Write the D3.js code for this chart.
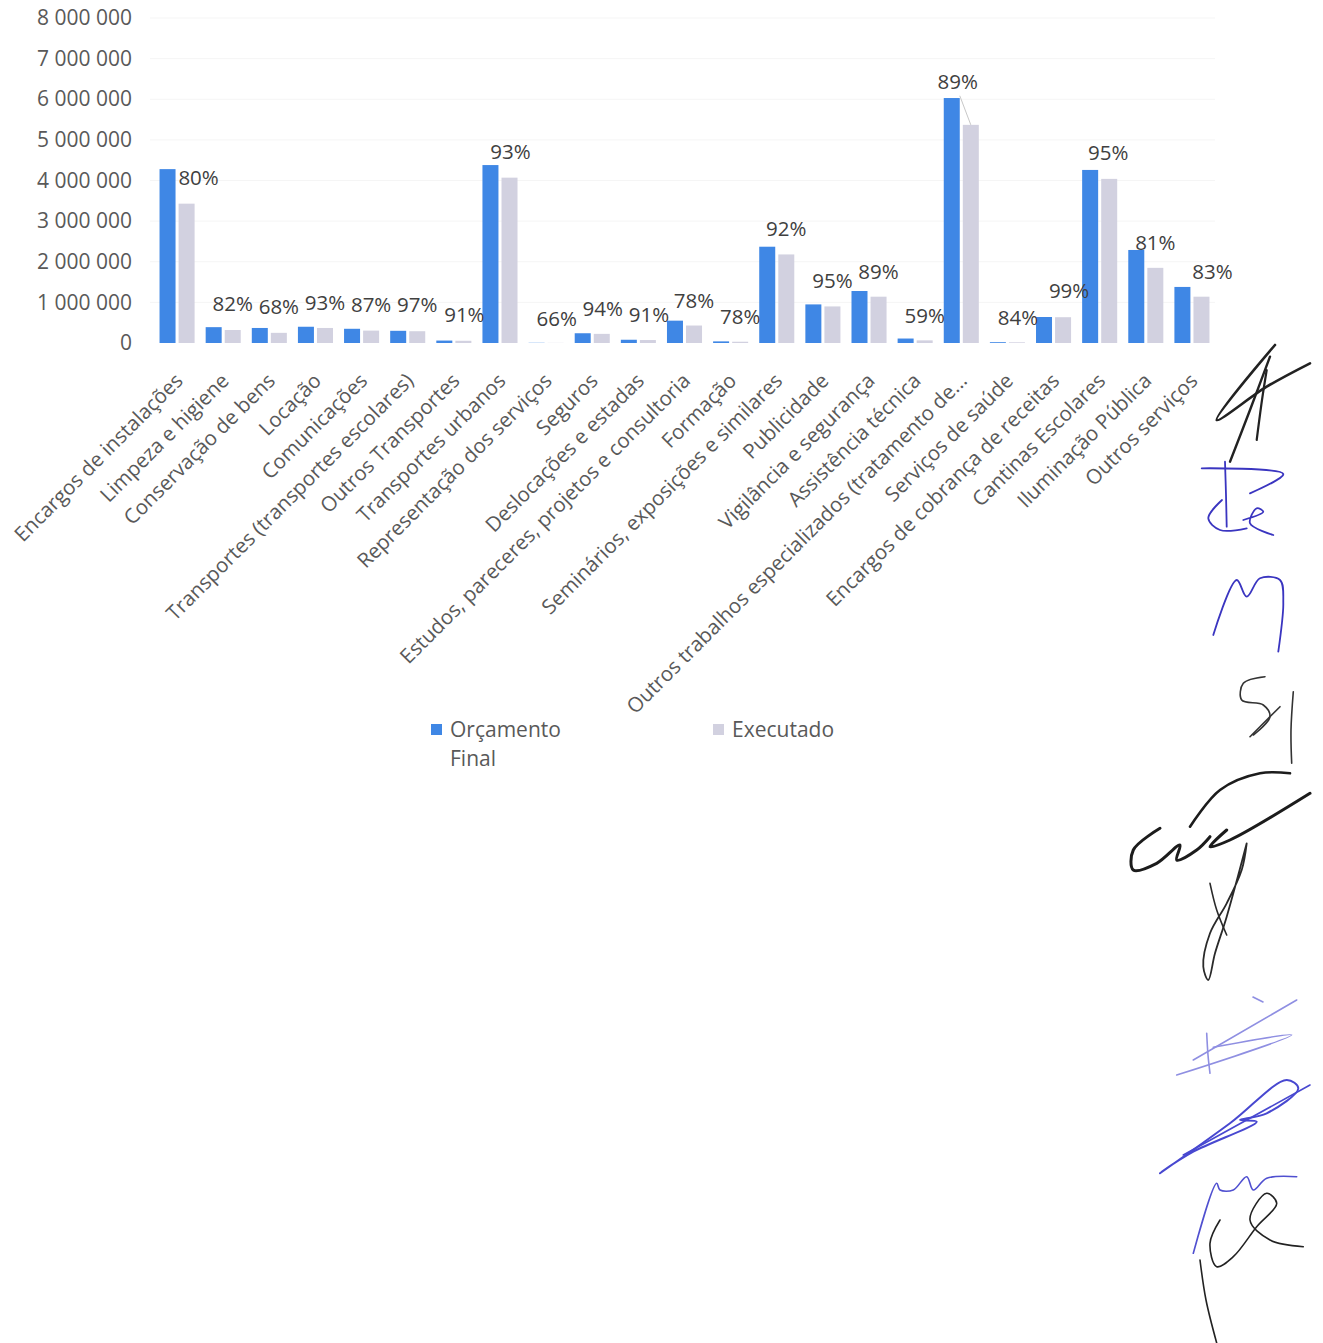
<!DOCTYPE html>
<html><head><meta charset="utf-8">
<script src="https://cdn.jsdelivr.net/npm/d3@7"></script>
<style>
html,body{margin:0;padding:0;background:#fff;}
svg{display:block;}
text{font-family:"Open Sans","Noto Sans",sans-serif;}
</style></head>
<body>
<script>
const categories = ["Encargos de instalações","Limpeza e higiene","Conservação de bens","Locação","Comunicações","Transportes (transportes escolares)","Outros Transportes","Transportes urbanos","Representação dos serviços","Seguros","Deslocações e estadas","Estudos, pareceres, projetos e consultoria","Formação","Seminários, exposições e similares","Publicidade","Vigilância e segurança","Assistência técnica","Outros trabalhos especializados (tratamento de...","Serviços de saúde","Encargos de cobrança de receitas","Cantinas Escolares","Iluminação Pública","Outros serviços"];
const orcamentoFinal = [4280000,390000,370000,400000,350000,300000,60000,4380000,5000,240000,80000,550000,40000,2370000,950000,1280000,110000,6030000,20000,640000,4260000,2290000,1380000];
const executado = [3430000,320000,250000,370000,305000,290000,54500,4070000,3300,225000,73000,430000,31000,2180000,900000,1140000,65000,5370000,16800,635000,4040000,1850000,1140000];
// height (in value units) at which each percentage label sits
const labelAt = [4060000,960000,890000,990000,940000,940000,690000,4700000,590000,840000,690000,1030000,640000,2810000,1530000,1750000,670000,6430000,620000,1280000,4680000,2460000,1750000];
const labelShift = [12,0,0,0,0,0,1,1,1,1,1,0,0,0,0,0,0,-13,1,6,-1,0,11];
const yTicks = [0,1000000,2000000,3000000,4000000,5000000,6000000,7000000,8000000];
const seriesNames = ["Orçamento Final","Executado"];
const colors = ["#3f87e5","#d2d1e0"];

const W = 1323, H = 1343;
const svg = d3.select("body").append("svg").attr("width",W).attr("height",H);

const x0 = d3.scaleBand().domain(categories).range([154,1215]).paddingInner(0.24).paddingOuter(0.12);
const x1 = d3.scaleBand().domain(seriesNames).range([0,x0.bandwidth()]).paddingInner(0.16);
const y = d3.scaleLinear().domain([0,8000000]).range([343,18]);

const loc = d3.formatLocale({decimal:",",thousands:" ",grouping:[3],currency:["","€"]});
const fmt = loc.format(",.0f");
const FS = 20.5;

// faint gridlines
svg.append("g").selectAll("line").data(yTicks.slice(1)).join("line")
  .attr("x1",150).attr("x2",1215).attr("y1",d=>y(d)).attr("y2",d=>y(d))
  .attr("stroke","#f5f5f5").attr("stroke-width",1);

// y axis labels
const yAxis = d3.axisLeft(y).tickValues(yTicks).tickFormat(fmt).tickSize(0).tickPadding(0);
const ga = svg.append("g").attr("transform","translate(132,0)").call(yAxis);
ga.select(".domain").remove();
ga.selectAll("text").attr("font-size",21).attr("fill","#595959").attr("font-family","'Open Sans',sans-serif");

// bars
const rows = categories.map((c,i)=>({c,i,vals:[orcamentoFinal[i],executado[i]]}));
const g = svg.append("g").selectAll("g").data(rows).join("g")
  .attr("transform",d=>`translate(${x0(d.c)},0)`);
g.selectAll("rect").data(d=>d.vals.map((v,k)=>({k,v}))).join("rect")
  .attr("x",d=>x1(seriesNames[d.k]))
  .attr("width",x1.bandwidth())
  .attr("y",d=>y(d.v))
  .attr("height",d=>y(0)-y(d.v))
  .attr("fill",d=>colors[d.k]);

// leader line for the moved label
const li = 17;
svg.append("line")
  .attr("x1",x0(categories[li])+x1("Executado")-3).attr("y1",y(labelAt[li])+14)
  .attr("x2",x0(categories[li])+x1("Executado")+x1.bandwidth()/2).attr("y2",y(executado[li]))
  .attr("stroke","#c8c8c8").attr("stroke-width",1);

// percentage labels
svg.append("g").selectAll("text").data(rows).join("text")
  .attr("x",d=>x0(d.c)+x1("Executado")+x1.bandwidth()/2+labelShift[d.i])
  .attr("y",d=>y(labelAt[d.i]))
  .attr("dy","0.35em")
  .attr("text-anchor","middle")
  .attr("font-size",FS).attr("fill","#404040")
  .text(d=>Math.round(executado[d.i]/orcamentoFinal[d.i]*100)+"%");

// category labels
svg.append("g").selectAll("text").data(categories).join("text")
  .attr("transform",d=>`translate(${x0(d)+x0.bandwidth()/2+7},382) rotate(-45)`)
  .attr("text-anchor","end")
  .attr("font-size",FS).attr("fill","#595959")
  .text(d=>d);

// legend
const lg = svg.append("g");
const legendX = [431,713];
seriesNames.forEach((n,k)=>{
  lg.append("rect").attr("x",legendX[k]).attr("y",724).attr("width",11).attr("height",11).attr("fill",colors[k]);
  const t = lg.append("text").attr("x",legendX[k]+19).attr("y",737).attr("font-size",21).attr("fill","#595959");
  if(k===0){
    t.append("tspan").attr("x",legendX[k]+19).text("Orçamento");
    t.append("tspan").attr("x",legendX[k]+19).attr("dy",29).text("Final");
  } else t.text(n);
});

// handwritten signatures in the right margin (scanned page decoration)
const signatures = [
  {c:"#222",w:2.6,p:[[1275,345],[1216.7,420],[1266.7,386.7],[1310,363.3]]},
  {c:"#222",w:2.4,p:[[1230,461.7],[1250,410],[1270,356.7]]},
  {c:"#222",w:2.2,p:[[1256.7,440],[1262,400],[1266.7,370]]},
  {c:"#3a35c0",w:1.8,p:[[1201.7,468.3],[1283.3,474],[1250,493.3]]},
  {c:"#3a35c0",w:1.8,p:[[1225,461.7],[1226,495],[1226.7,526.7]]},
  {c:"#3a35c0",w:1.8,p:[[1222,500],[1208.3,518.3],[1220,530],[1246.7,528.3]]},
  {c:"#3a35c0",w:1.8,p:[[1243.3,520],[1263.3,511.7],[1256.7,508.3],[1250,523.3],[1273.3,535]]},
  {c:"#3a35c0",w:1.8,p:[[1213.3,635],[1236.7,580],[1246.7,596.7],[1260,578.3],[1280,580],[1283.3,603.3],[1278.3,651.7]]},
  {c:"#333",w:1.6,p:[[1265,676.7],[1243.3,683.3],[1241.7,700],[1263.3,705],[1270,716.7],[1253.3,735]]},
  {c:"#333",w:1.6,p:[[1293.3,691.7],[1291,730],[1291.7,763.3]]},
  {c:"#333",w:1.6,p:[[1250,736.7],[1280,706.7]]},
  {c:"#1c1c1c",w:3,p:[[1160,828.3],[1133.3,850],[1133.3,870],[1156.7,863.3],[1180,845],[1176.7,860],[1196.7,850],[1210,836.7]]},
  {c:"#1c1c1c",w:3,p:[[1226.7,830],[1210,846.7],[1230,840],[1310,793.3]]},
  {c:"#1c1c1c",w:2.6,p:[[1190,826.7],[1220,790],[1260,773.3],[1290,773.3]]},
  {c:"#2a2a2a",w:1.8,p:[[1246.7,843.3],[1241.7,870],[1226.7,903.3],[1210,933.3],[1203.3,966.7],[1208.3,980],[1215,953.3],[1226.7,916.7],[1246.7,843.3]]},
  {c:"#2a2a2a",w:1.6,p:[[1210,883.3],[1216.7,910],[1226.7,935]]},
  {c:"#8f8fe2",w:1.6,p:[[1176.7,1075],[1291.7,1035],[1213.3,1047.3]]},
  {c:"#8f8fe2",w:1.6,p:[[1206.7,1033.3],[1208,1055],[1210,1073.3]]},
  {c:"#8f8fe2",w:1.6,p:[[1193.3,1060],[1296.7,1000]]},
  {c:"#8f8fe2",w:1.6,p:[[1253,997],[1263,1002]]},
  {c:"#4848d0",w:2,p:[[1160,1173.3],[1230,1123.3],[1286.7,1080],[1298.3,1088.3],[1266.7,1113.3],[1240,1120],[1256.7,1121.7],[1193.3,1151.7],[1161.7,1171.7]]},
  {c:"#4848d0",w:1.6,p:[[1183.3,1155],[1310,1085]]},
  {c:"#5050d0",w:1.6,p:[[1193.3,1253.3],[1216.7,1183.3],[1220,1190],[1233.3,1190],[1246.7,1176.7],[1253.3,1190],[1266.7,1178.3],[1296.7,1176.7]]},
  {c:"#222",w:1.6,p:[[1220,1220],[1210,1243.3],[1216.7,1266.7],[1233.3,1256.7],[1256.7,1226.7],[1276.7,1203.3],[1266.7,1193.3],[1250,1220],[1270,1240],[1303.3,1246.7]]},
  {c:"#222",w:1.6,p:[[1200,1260],[1206,1300],[1216.7,1343]]}
];
const sigLine = d3.line().curve(d3.curveCatmullRom.alpha(0.5));
svg.append("g").selectAll("path").data(signatures).join("path")
  .attr("d",d=>sigLine(d.p)).attr("fill","none")
  .attr("stroke",d=>d.c).attr("stroke-width",d=>d.w)
  .attr("stroke-linecap","round").attr("stroke-linejoin","round");
</script>
</body></html>
